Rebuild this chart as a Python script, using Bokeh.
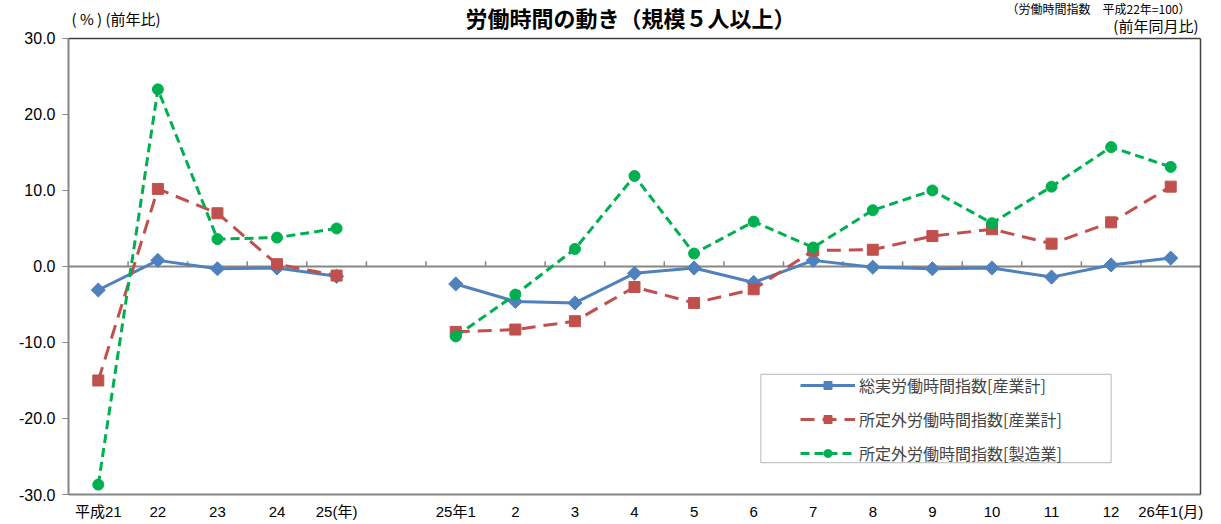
import math
from bokeh.plotting import figure
from bokeh.models import (Range1d, FixedTicker, NumeralTickFormatter, Span, Label,
                          Legend, LegendItem, BoxAnnotation, LinearAxis)
from bokeh.embed import file_html
from bokeh.resources import INLINE

# ---------------- data ----------------
year_labels = ["平成21", "22", "23", "24", "25(年)"]
month_labels = ["25年1", "2", "3", "4", "5", "6", "7", "8", "9", "10", "11", "12", "26年1(月)"]

total_year = [-3.1, 0.8, -0.3, -0.2, -1.3]
total_month = [-2.3, -4.6, -4.8, -0.9, -0.2, -2.1, 0.8, -0.1, -0.3, -0.2, -1.4, 0.2, 1.1]

overtime_year = [-15.0, 10.2, 7.0, 0.3, -1.2]
overtime_month = [-8.6, -8.3, -7.2, -2.7, -4.8, -3.0, 2.1, 2.2, 4.0, 4.9, 3.0, 5.8, 10.5]

mfg_year = [-28.7, 23.3, 3.6, 3.8, 5.0]
mfg_month = [-9.2, -3.7, 2.3, 11.9, 1.7, 5.9, 2.5, 7.4, 10.0, 5.7, 10.5, 15.7, 13.1]

series_names = ["総実労働時間指数[産業計]", "所定外労働時間指数[産業計]", "所定外労働時間指数[製造業]"]
y_ticks = [-30, -20, -10, 0, 10, 20, 30]

title_text = "労働時間の動き（規模５人以上）"
note_text = "（労働時間指数　平成22年=100）"
ylabel_text = "( % ) (前年比)"
right_text = "(前年同月比)"

# ---------------- layout helpers ----------------
n_year = len(year_labels)
n_gap = 1
n_slots = n_year + n_gap + len(month_labels)
x_year = [i + 0.5 for i in range(n_year)]
x_month = [n_year + n_gap + i + 0.5 for i in range(len(month_labels))]

JP = "Noto Sans CJK JP"
NUM = "Liberation Sans"
W, H = 1215, 522
LEFT, RIGHT_B = 68, 15
PLOT_TOP, PLOT_BOTTOM = 38, 495          # pixel rows of +30 and -30
y_lo, y_hi = y_ticks[0], y_ticks[-1]
px_per_unit = (PLOT_BOTTOM - PLOT_TOP) / (y_hi - y_lo)
y_top = y_hi + PLOT_TOP / px_per_unit    # frame reaches the canvas top (room for header texts)

p = figure(width=W, height=H, x_range=Range1d(0, n_slots), y_range=Range1d(y_lo, y_top),
           output_backend="svg", toolbar_location=None,
           min_border_left=LEFT, min_border_right=RIGHT_B, min_border_top=0,
           min_border_bottom=H - PLOT_BOTTOM,
           background_fill_color="white", border_fill_color="white")
p.xgrid.visible = False
p.ygrid.visible = False
p.outline_line_color = None

# plot-area border (top + right dark, left + bottom gray axes)
p.add_layout(Span(location=y_hi, dimension="width", line_color="#404040", line_width=1.5))
right_axis = LinearAxis(ticker=FixedTicker(ticks=[]), bounds=(y_lo, y_hi),
                        axis_line_color="#404040", axis_line_width=1.5,
                        major_tick_line_color=None, minor_tick_line_color=None,
                        major_label_text_font_size="0px")
p.add_layout(right_axis, "right")

# zero line with category boundary ticks
p.add_layout(Span(location=0, dimension="width", line_color="#868686", line_width=2, level="underlay"))
bounds = list(range(1, n_slots))
p.segment(x0=bounds, y0=[0] * len(bounds), x1=bounds, y1=[0.7] * len(bounds),
          line_color="#868686", line_width=1.5, level="underlay")

def draw(ys_year, ys_month, color, dash, marker, size, angle=0.0):
    first = None
    for xs, ys in ((x_year, ys_year), (x_month, ys_month)):
        ln = p.line(xs, ys, line_color=color, line_width=3, line_dash=dash)
        sc = p.scatter(xs, ys, marker=marker, size=size, fill_color=color, line_color=color, angle=angle)
        if first is None:
            first = [ln, sc]
    return first

r_total = draw(total_year, total_month, "#4F81BD", "solid", "square", 10, math.pi / 4)
r_over = draw(overtime_year, overtime_month, "#C0504D", "14 8", "square", 11)
r_mfg = draw(mfg_year, mfg_month, "#00B050", "9 5", "circle", 11)

# axes
yax = p.yaxis[0]
yax.bounds = (y_lo, y_hi)
yax.ticker = FixedTicker(ticks=y_ticks)
yax.formatter = NumeralTickFormatter(format="0.0")
yax.major_tick_out = 6
yax.major_tick_in = 0
yax.minor_tick_line_color = None
yax.axis_line_color = "#868686"
yax.axis_line_width = 2
yax.major_tick_line_color = "#868686"
yax.major_label_text_font_size = "16px"
yax.major_label_text_font = NUM
yax.major_label_text_color = "black"
yax.major_label_standoff = 7

xax = p.xaxis[0]
xax.ticker = FixedTicker(ticks=x_year + x_month)
xax.major_label_overrides = {x: lab for x, lab in zip(x_year + x_month, year_labels + month_labels)}
xax.major_tick_line_color = None
xax.major_tick_out = 0
xax.major_tick_in = 0
xax.minor_tick_line_color = None
xax.axis_line_color = "#868686"
xax.axis_line_width = 2
xax.major_label_text_font_size = "15px"
xax.major_label_text_font = "Liberation Sans, Noto Sans CJK JP"
xax.major_label_text_color = "black"
xax.major_label_standoff = 8

# legend
legend = Legend(items=[LegendItem(label=series_names[0], renderers=r_total),
                       LegendItem(label=series_names[1], renderers=r_over),
                       LegendItem(label=series_names[2], renderers=r_mfg)],
                location=(732, 29), border_line_color=None, background_fill_alpha=0,
                padding=5, spacing=10, glyph_width=55, glyph_height=20, label_height=20,
                label_standoff=4, label_text_font_size="16px", label_text_font=JP,
                label_text_baseline="middle")
p.add_layout(legend)
p.add_layout(BoxAnnotation(left=11.62, right=17.5, top=-14.2, bottom=-25.8,
                           fill_alpha=0, line_color="#404040", line_width=1.2, level="overlay"))

# header texts (frame-relative screen coordinates, y measured up from the frame bottom)
def hdr(text, px, py, size, align, bold=False):
    p.add_layout(Label(x=px - LEFT, y=PLOT_BOTTOM - py, x_units="screen", y_units="screen",
                       text=text, text_font=JP, text_font_size=size,
                       text_font_style="bold" if bold else "normal",
                       text_align=align, text_baseline="middle", text_color="black"))

hdr(title_text, 630, 17, "22px", "center", bold=True)
hdr(note_text, 1190, 9, "12px", "right")
hdr(ylabel_text, 71, 19, "15px", "left")
hdr(right_text, 1198, 26, "15px", "right")

open("out.html", "w").write(file_html(p, INLINE))
